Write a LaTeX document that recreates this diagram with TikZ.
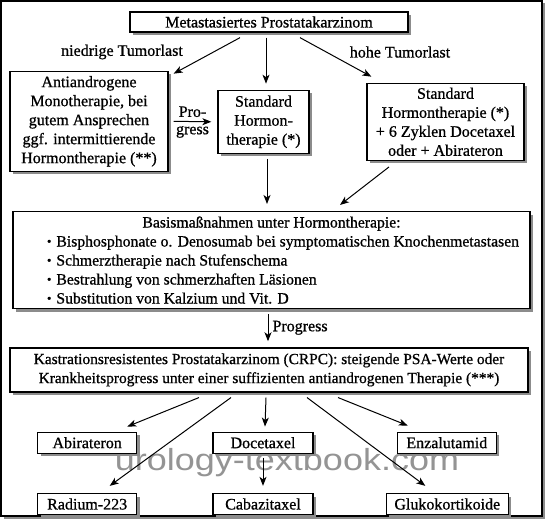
\documentclass[tikz,border=0pt]{standalone}
\usepackage{fontspec}
\setmainfont{Liberation Serif}[FakeBold=0.8]
\newfontfamily\wmfont{Liberation Sans}
\usepackage{tikz}
\usetikzlibrary{positioning, arrows.meta, shadows}
\newcommand{\basisitem}[1]{\hspace*{28pt}\makebox[477pt][l]{\raisebox{1pt}{\scalebox{0.8}{\textbullet}}\hspace{5pt}#1}}
\tikzset{
  box/.style   = {rectangle, draw=black, line width=1.3pt, fill=white,
                  align=center, inner sep=2pt, font=\fontsize{16}{19}\selectfont,
                  drop shadow={shadow xshift=3pt, shadow yshift=-3pt,
                               fill=black!45, opacity=1}},
  drug/.style  = {box, minimum width=99pt, minimum height=21pt},
  lbl/.style   = {font=\fontsize{16}{19}\selectfont, inner sep=1pt},
  frame/.style = {line width=1.3pt, draw=black, fill=white,
                  drop shadow={shadow xshift=2.5pt, shadow yshift=-2.5pt,
                               fill=black!45, opacity=1}},
  wm/.style    = {font=\wmfont\fontsize{30.5}{36}\selectfont, text=black!42, inner sep=0pt},
  arr/.style   = {-{Stealth[length=9pt,width=7pt,inset=2.5pt]}, line width=1pt},
}
\begin{document}
\begin{tikzpicture}[x=1pt, y=-1pt]
  \useasboundingbox (0,0) rectangle (546,519);
  \draw[frame] (1,1) rectangle (542,516);
  \node[wm, anchor=base] (wmark) at (287,470) {\scalebox{1.18}[1]{urology-textbook.com}};

  % TOP: diagnosis and first line
  \node[box, minimum width=278pt, minimum height=20pt] (mets) at (269,22) {Metastasiertes Prostatakarzinom};

  \node[lbl] (low) at (122,52) {niedrige Tumorlast};
  \node[lbl] (high) at (400,52) {hohe Tumorlast};

  \node[box, below=38pt of mets, xshift=-180pt, minimum width=158pt, minimum height=100pt] (mono)
       {Antiandrogene\\Monotherapie, bei\\gutem Ansprechen\\ggf. intermittierende\\Hormontherapie (**)};
  \node[box, below=57pt of mets, xshift=-5.5pt, minimum width=91pt, minimum height=63pt] (std)
       {Standard\\Hormon-\\therapie (*)};
  \node[box, below=50pt of mets, xshift=176.5pt, minimum width=157pt, minimum height=77pt] (stdplus)
       {Standard\\Hormontherapie (*)\\+ 6 Zyklen Docetaxel\\oder + Abirateron};

  \draw[arr] ([xshift=-29pt,yshift=-5pt]mets.south) -- ([xshift=5pt,yshift=-3pt]mono.north east);
  \draw[arr] ([xshift=-3pt,yshift=-5pt]mets.south) -- ([xshift=2.5pt,yshift=6pt]std.north);
  \draw[arr] ([xshift=31pt,yshift=-5pt]mets.south) -- ([xshift=5pt,yshift=6pt]stdplus.north west);
  \draw[arr] ([xshift=5pt]mono.east) -- ([xshift=-6pt]std.west)
       node[lbl, midway, above=3pt] (pro) {Pro-}
       node[lbl, midway, below=3pt] (gress) {gress};

  % MIDDLE: basis and CRPC
  \node[box, below=57pt of std, xshift=8pt, minimum width=517pt, minimum height=97pt,
        font=\fontsize{15.7}{19}\selectfont] (basis)
       {Basismaßnahmen unter Hormontherapie:\\
        \basisitem{Bisphosphonate o. Denosumab bei symptomatischen Knochenmetastasen}\\
        \basisitem{Schmerztherapie nach Stufenschema}\\
        \basisitem{Bestrahlung von schmerzhaften Läsionen}\\
        \basisitem{Substitution von Kalzium und Vit. D}};

  \draw[arr] ([xshift=3.5pt,yshift=-5pt]std.south) -- ([xshift=-4.5pt,yshift=7pt]basis.north);
  \draw[arr] ([xshift=-56.5pt,yshift=-6pt]stdplus.south) -- ([xshift=68.5pt,yshift=6pt]basis.north);

  \node[box, below=38pt of basis, xshift=-2.5pt, minimum width=518pt, minimum height=44pt,
        font=\fontsize{15.4}{19}\selectfont] (crpc)
       {Kastrationsresistentes Prostatakarzinom (CRPC): steigende PSA-Werte oder\\
        Krankheitsprogress unter einer suffizienten antiandrogenen Therapie (***)};

  \draw[arr] ([xshift=-3.5pt,yshift=-5pt]basis.south) -- ([xshift=-1pt,yshift=6pt]crpc.north)
       node[lbl, midway, right=3pt] (prog) {Progress};

  % BOTTOM: CRPC options
  \node[drug, below=39pt of crpc, xshift=-6pt, minimum width=100pt] (doce) {Docetaxel};
  \node[drug, left=75pt of doce] (abi) {Abirateron};
  \node[drug, right=83pt of doce] (enza) {Enzalutamid};
  \node[drug, below=39pt of doce, minimum width=100pt] (caba) {Cabazitaxel};
  \node[drug, below=39pt of abi] (radium) {Radium-223};
  \node[drug, below=39pt of enza, xshift=0.5pt, minimum width=122pt] (gluko) {Glukokortikoide};

  \draw[arr] ([xshift=-70pt,yshift=-5pt]crpc.south) -- ([xshift=-10pt,yshift=5pt]abi.north east);
  \draw[arr] ([xshift=-38pt,yshift=-5pt]crpc.south) -- ([xshift=22.5pt,yshift=7pt]radium.north);
  \draw[arr] ([xshift=-3pt,yshift=-5pt]crpc.south) -- ([xshift=2pt,yshift=5pt]doce.north);
  \draw[arr] ([xshift=38pt,yshift=-5pt]crpc.south) -- ([xshift=-22pt,yshift=7pt]gluko.north);
  \draw[arr] ([xshift=69pt,yshift=-5pt]crpc.south) -- ([xshift=11pt,yshift=6pt]enza.north west);
  \draw[arr] ([yshift=-4pt]doce.south) -- ([yshift=7pt]caba.north);

\end{tikzpicture}
\end{document}
